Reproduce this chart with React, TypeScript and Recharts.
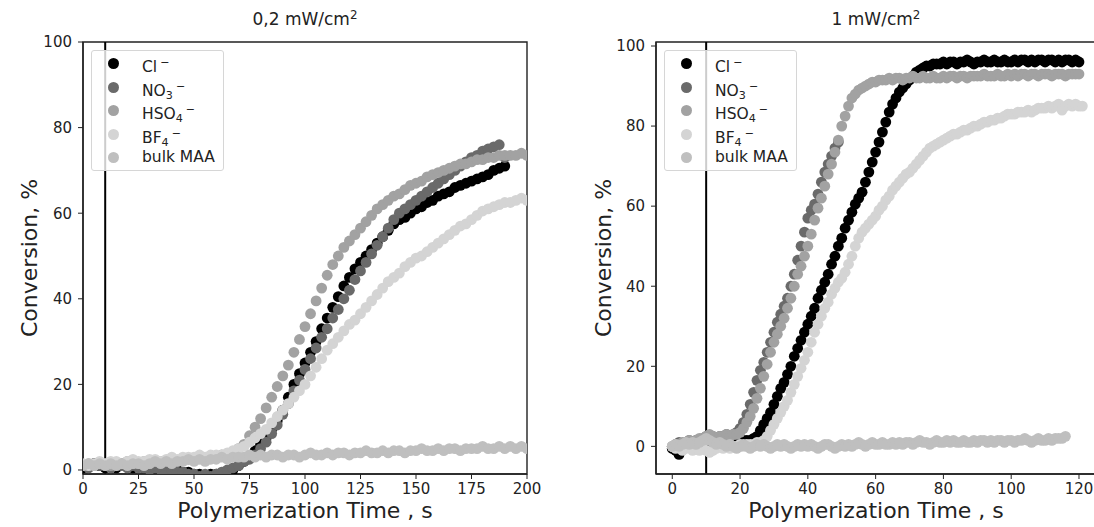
import React from 'react';
import {
  ScatterChart, Scatter, XAxis, YAxis, ReferenceLine, ReferenceArea,
} from 'recharts';

// sample times (s)
const leftTime = [
  0, 2.5, 5, 7.5, 10, 12.5, 15, 17.5, 20, 22.5,
  25, 27.5, 30, 32.5, 35, 37.5, 40, 42.5, 45, 47.5,
  50, 52.5, 55, 57.5, 60, 62.5, 65, 67.5, 70, 72.5,
  75, 77.5, 80, 82.5, 85, 87.5, 90, 92.5, 95, 97.5,
  100, 102.5, 105, 107.5, 110, 112.5, 115, 117.5, 120, 122.5,
  125, 127.5, 130, 132.5, 135, 137.5, 140, 142.5, 145, 147.5,
  150, 152.5, 155, 157.5, 160, 162.5, 165, 167.5, 170, 172.5,
  175, 177.5, 180, 182.5, 185, 187.5, 190, 192.5, 195, 197.5,
  200,
];

const rightTime = [
  0, 1, 2, 3, 4, 5, 6, 7, 8, 9,
  10, 11, 12, 13, 14, 15, 16, 17, 18, 19,
  20, 21, 22, 23, 24, 25, 26, 27, 28, 29,
  30, 31, 32, 33, 34, 35, 36, 37, 38, 39,
  40, 41, 42, 43, 44, 45, 46, 47, 48, 49,
  50, 51, 52, 53, 54, 55, 56, 57, 58, 59,
  60, 61, 62, 63, 64, 65, 66, 67, 68, 69,
  70, 71, 72, 73, 74, 75, 76, 77, 78, 79,
  80, 81, 82, 83, 84, 85, 86, 87, 88, 89,
  90, 91, 92, 93, 94, 95, 96, 97, 98, 99,
  100, 101, 102, 103, 104, 105, 106, 107, 108, 109,
  110, 111, 112, 113, 114, 115, 116, 117, 118, 119,
  120, 121,
];

// 0,2 mW/cm2 conversion, %
const leftCl = [
  0.5, 1, 1.5, 1, 0.5, 1, 0.5, 1.5, 1, 0.5,
  1, 0.5, 0, 0.5, 0, 0, -0.5, 0, -0.5, -0.5,
  -1, -1, -1.5, -1, -1, -1, -0.5, 0, 1, 2,
  3, 4.5, 6, 7.5, 9.5, 11.5, 14, 17, 20, 22.5,
  25, 27.5, 30, 33, 35.5, 38, 40.5, 43, 45, 47,
  48.5, 50, 51.5, 53, 54.5, 56, 57.5, 58.5, 59, 60,
  61, 61.5, 62.5, 63, 64, 64.5, 65, 66, 66.5, 67,
  67.5, 68, 68.5, 69, 70, 70.5, 71,
];
const leftNO3 = [
  1, 0.5, 1.5, 1, 1, 0.5, 1, 1, 0.5, 1,
  0.5, 0.5, 0, 0.5, 0, -0.5, 0, -0.5, -0.5, -1,
  -1, -1.5, -1, -1.5, -1, -0.5, 0, 0.5, 1, 2,
  2.5, 3.5, 5, 6.5, 8.5, 10.5, 13, 15.5, 18.5, 21,
  23.5, 26, 28.5, 31, 33, 35.5, 37.5, 40, 42, 44.5,
  46.5, 48.5, 50.5, 52.5, 54.5, 56.5, 58.5, 60, 61, 62,
  63, 64, 65, 66, 67, 68, 69, 70, 71, 72,
  73, 73.5, 74.5, 75, 75.5, 76, 73,
];
const leftHSO4 = [
  1, 1.5, 1, 1.5, 1.5, 1, 1.5, 1.5, 2, 1.5,
  1.5, 2, 1.5, 2, 2, 2, 2.5, 2, 2.5, 2.5,
  2.5, 3, 2.5, 3, 3, 3.5, 3.5, 4, 5, 6,
  8, 10, 12, 14.5, 17, 19.5, 22, 24.5, 27.5, 30.5,
  33.5, 36.5, 39.5, 42.5, 45.5, 48, 50, 52, 53.5, 55,
  56.5, 58, 59.5, 61, 62, 63, 64, 64.5, 65.5, 66.5,
  67, 67.5, 68.5, 69, 69.5, 70, 70.5, 71, 71.5, 71.5,
  72, 72.5, 72.5, 73, 73, 73.5, 73.5, 73.5, 73.5, 74,
  73.5,
];
const leftBF4 = [
  1.5, 1, 1.5, 2, 1.5, 2, 2, 1.5, 2, 2.5,
  2, 2, 2.5, 2.5, 2, 2.5, 3, 2.5, 3, 3,
  3, 3.5, 3, 3.5, 3.5, 3.5, 4, 4.5, 5, 5.5,
  6.5, 7.5, 8.5, 9.5, 11, 12.5, 14, 15.5, 17, 18.5,
  20, 22, 24, 26, 28, 29.5, 31, 32.5, 34, 35,
  36.5, 38, 39.5, 41, 42.5, 44, 45, 46, 47.5, 48.5,
  49.5, 50, 51, 52, 53, 54, 55, 56, 57, 57.5,
  58.5, 59.5, 60.5, 61, 61.5, 62, 62.5, 62.5, 63, 63.5,
  63,
];
const leftBulk = [
  1, 1.5, 1, 1.5, 1, 1.5, 1, 1.5, 1, 1.5,
  1.5, 1, 1.5, 2, 1.5, 2, 1.5, 2, 2, 2.5,
  2, 2.5, 2, 2.5, 2.5, 3, 2.5, 3, 3, 3,
  3.5, 3, 3.5, 3, 3.5, 3.5, 3, 3.5, 3.5, 3,
  3.5, 4, 3.5, 3.5, 4, 3.5, 4, 4, 3.5, 4,
  4, 4.5, 4, 4, 4.5, 4, 4.5, 4.5, 4, 4.5,
  4.5, 5, 4.5, 4.5, 5, 4.5, 5, 5, 4.5, 5,
  5, 5, 5.5, 5, 5, 5.5, 5, 5.5, 5, 5.5,
  5,
];

// 1 mW/cm2 conversion, %
const rightCl = [
  -0.5, -1, -2, -0.5, 0, 0.5, 0, 0.5, 1, 0.5,
  1, 0.5, 1, 0.5, 1, 1, 1.5, 1, 1, 1.5,
  1.5, 1.5, 1.5, 1.5, 2, 2.5, 4, 5.5, 7, 8.5,
  10.5, 12.5, 14.5, 16, 18, 20, 22.5, 24.5, 26.5, 28.5,
  30.5, 32.5, 34.5, 37, 39, 41, 43, 45.5, 47.5, 50,
  52, 54.5, 56.5, 58.5, 60.5, 62, 63.5, 66, 68.5, 71,
  73.5, 76, 78.5, 81, 83.5, 85.5, 87, 88.5, 89.5, 90.5,
  91.5, 92.5, 93.5, 94, 94.5, 95, 95, 95.5, 95.5, 95.5,
  96, 95.5, 96, 96, 95.5, 96, 96, 96.5, 96, 95.5,
  96, 96, 96.5, 96, 96, 96.5, 96, 96, 96.5, 96,
  96, 96.5, 96, 96.5, 96.5, 96, 96.5, 96, 96.5, 96.5,
  96, 96.5, 96.5, 96, 96.5, 96, 96.5, 96.5, 96, 96.5,
  96,
];
const rightNO3 = [
  0, 0.5, 1, 0.5, 1, 1.5, 1, 1.5, 1.5, 2,
  2.5, 2, 2.5, 2, 2.5, 2.5, 3, 2.5, 3, 3.5,
  4.5, 6, 8, 10.5, 13.5, 16.5, 19, 21, 23.5, 26,
  28.5, 31, 33, 35, 37, 40, 43, 46.5, 50, 53.5,
  57, 59, 60.5, 63, 66, 68.5, 70.5, 72.5, 74.5, 76,
];
const rightHSO4 = [
  0, 0.5, 0.5, 1, 1, 1.5, 1, 1.5, 2, 2,
  2.5, 3, 2.5, 2, 2.5, 2.5, 3, 2.5, 3, 3,
  3.5, 4.5, 6, 7.5, 9.5, 12, 14.5, 17.5, 20.5, 23.5,
  26, 28, 30, 32, 34.5, 37, 40, 43, 45, 47.5,
  50, 53, 56.5, 59.5, 62, 65, 68, 70.5, 73.5, 76.5,
  80, 82.5, 85, 87, 88, 89, 89.5, 90, 90.5, 91,
  91, 91.5, 91.5, 91.5, 92, 91.5, 92, 92, 91.5, 92,
  92, 92.5, 92, 92, 92.5, 92, 92, 92.5, 92, 92,
  92.5, 92, 92.5, 92.5, 92, 92.5, 92.5, 92, 92.5, 92.5,
  92.5, 92.5, 93, 92.5, 92.5, 92.5, 93, 92.5, 92.5, 93,
  92.5, 93, 92.5, 93, 93, 92.5, 93, 93, 92.5, 93,
  93, 93, 92.5, 93, 93, 93, 92.5, 93, 93, 93,
  93,
];
const rightBF4 = [
  0, -0.5, 0, -1, -0.5, 0, -1, -0.5, -1, -0.5,
  -1, -1.5, -1, -0.5, 0, -0.5, 0, -0.5, 0, 0,
  0.5, 0, 0.5, 0.5, 0.5, 1, 1, 1.5, 2.5, 4,
  5.5, 7, 8.5, 10, 11.5, 13.5, 15.5, 17.5, 19.5, 21.5,
  23.5, 26, 28.5, 30.5, 32.5, 34.5, 36, 38, 39.5, 41,
  42, 43.5, 45.5, 47.5, 50, 52, 53.5, 54.5, 55.5, 56.5,
  57.5, 59, 60, 61.5, 62.5, 64, 65, 66, 67, 68,
  68.5, 69.5, 70.5, 71.5, 72.5, 73.5, 74.5, 75, 75.5, 76,
  76.5, 77, 77.5, 78, 78, 78.5, 79, 79, 79.5, 80,
  80, 80.5, 81, 81, 81.5, 81.5, 82, 82, 82.5, 83,
  83, 83, 83.5, 83.5, 83.5, 84, 83.5, 84, 84.5, 84.5,
  84.5, 85, 84.5, 85, 85.5, 84, 85, 85.5, 85, 85.5,
  85, 85,
];
const rightBulk = [
  0, 0.5, 0, 0.5, 1, 0.5, 1, 0.5, 1, 1.5,
  2, 1.5, 1, 0.5, 1, 0.5, 0, 0.5, 0, -0.5,
  0, 0.5, 0, -0.5, 0, 0.5, 0, 0.5, 0, -0.5,
  0, 0.5, 0, 0.5, 0, -0.5, 0, 0.5, 0, 0.5,
  0, 0.5, 0, -0.5, 0, 0.5, 0.5, 0, -0.5, 0,
  0.5, 0, 0.5, 0, 0.5, 1, 0.5, 0, 0.5, 1,
  0.5, 0.5, 1, 0.5, 0.5, 1, 0.5, 1, 0.5, 1,
  1, 0.5, 1, 1.5, 1, 1, 0.5, 1, 1.5, 1,
  1, 1.5, 1, 1.5, 1, 1, 1.5, 1, 1, 1.5,
  1, 1.5, 1.5, 1, 1.5, 1, 1.5, 1.5, 1, 1.5,
  1.5, 1, 1.5, 1.5, 2, 1.5, 1, 1.5, 2, 1.5,
  1.5, 2, 1.5, 2, 2, 2, 2.5,
];

const leftXTicks = [0, 25, 50, 75, 100, 125, 150, 175, 200];
const rightXTicks = [0, 20, 40, 60, 80, 100, 120];
const yTicks = [0, 20, 40, 60, 80, 100];

const seriesNames = ['Cl', 'NO3', 'HSO4', 'BF4', 'bulk MAA'];
const seriesColors = ['#000000', '#6a6a6a', '#a2a2a2', '#d4d4d4', '#bfbfbf'];

const pts = (ts: number[], vs: number[]) => vs.map((v, i) => ({ t: ts[i], v }));

const leftSeries = [
  pts(leftTime, leftCl), pts(leftTime, leftNO3), pts(leftTime, leftHSO4),
  pts(leftTime, leftBF4), pts(leftTime, leftBulk),
];
const rightSeries = [
  pts(rightTime, rightCl), pts(rightTime, rightNO3), pts(rightTime, rightHSO4),
  pts(rightTime, rightBF4), pts(rightTime, rightBulk),
];

const FONT = '"DejaVu Sans", sans-serif';
const INK = '#222';

const dot = (color: string) => (props: any) => (
  <circle cx={props.cx} cy={props.cy} r={5.4} fill={color} />
);

const ion = (base: string, sub?: string) => (
  <span>
    {base}
    {sub && <span style={{ fontSize: '0.72em', verticalAlign: '-0.3em' }}>{sub}</span>}
    <span style={{ fontSize: '0.72em', verticalAlign: '0.55em', marginLeft: 3 }}>−</span>
  </span>
);

const legendLabels = [ion('Cl'), ion('NO', '3'), ion('HSO', '4'), ion('BF', '4'), <span>bulk MAA</span>];

function LegendBox({ left, top }: { left: number; top: number }) {
  return (
    <div style={{
      position: 'absolute', left, top, width: 131, height: 119,
      background: 'rgba(255,255,255,0.8)', border: '1px solid #d6d6d6', borderRadius: 3,
      fontFamily: FONT, fontSize: 15.5, color: INK,
    }}>
      {seriesNames.map((n, i) => (
        <div key={n} style={{ position: 'absolute', left: 0, top: 1 + i * 23.5, height: 23, width: '100%' }}>
          <div style={{
            position: 'absolute', left: 16, top: 6, width: 11, height: 11,
            borderRadius: '50%', background: seriesColors[i],
          }} />
          <div style={{ position: 'absolute', left: 50, top: 1, lineHeight: '20px', whiteSpace: 'nowrap' }}>
            {legendLabels[i]}
          </div>
        </div>
      ))}
    </div>
  );
}

function Panel(props: {
  left: number; width: number; margin: any; xDomain: number[]; yDomain: number[];
  xTicks: number[]; series: { t: number; v: number }[][];
}) {
  const { left, width, margin, xDomain, yDomain, xTicks, series } = props;
  const tick = { fontSize: 15, fill: INK, fontFamily: FONT };
  return (
    <div style={{ position: 'absolute', left, top: 0 }}>
      <ScatterChart width={width} height={527} margin={margin}>
        <XAxis
          type="number" dataKey="t" domain={xDomain} ticks={xTicks} allowDataOverflow
          height={53} tick={tick} tickSize={5} tickMargin={4}
          axisLine={{ stroke: INK, strokeWidth: 1.4 }} tickLine={{ stroke: INK }}
        />
        <YAxis
          type="number" dataKey="v" domain={yDomain} ticks={yTicks} allowDataOverflow
          width={50} tick={tick} tickSize={5} tickMargin={6}
          axisLine={{ stroke: INK, strokeWidth: 1.4 }} tickLine={{ stroke: INK }}
        />
        <ReferenceArea
          x1={xDomain[0]} x2={xDomain[1]} y1={yDomain[0]} y2={yDomain[1]}
          fill="none" stroke={INK} strokeWidth={1.4} ifOverflow="visible"
        />
        {series.map((d, i) => (
          <Scatter key={seriesNames[i]} name={seriesNames[i]} data={d}
            fill={seriesColors[i]} shape={dot(seriesColors[i])} isAnimationActive={false} />
        ))}
        <ReferenceLine x={10} stroke="#000" strokeWidth={2} />
      </ScatterChart>
    </div>
  );
}

const textBox = (cx: number, cy: number, size: number, rotate = false): React.CSSProperties => ({
  position: 'absolute', left: cx, top: cy, whiteSpace: 'nowrap',
  transform: `translate(-50%, -50%)${rotate ? ' rotate(-90deg)' : ''}`,
  fontFamily: FONT, fontSize: size, color: INK, lineHeight: 1,
});

export default function App() {
  return (
    <div style={{
      position: 'absolute', left: 0, top: 0, width: 1094, height: 527,
      overflow: 'hidden', background: '#fff',
    }}>
      <Panel left={0} width={550} margin={{ top: 42, right: 23, bottom: 0, left: 33 }}
        xDomain={[0, 200]} yDomain={[-0.94, 100]} xTicks={leftXTicks} series={leftSeries} />
      <Panel left={560} width={560} margin={{ top: 42, right: 20, bottom: 0, left: 46 }}
        xDomain={[-4.8, 126.2]} yDomain={[-6.9, 101]} xTicks={rightXTicks} series={rightSeries} />

      <LegendBox left={91} top={50} />
      <LegendBox left={664} top={50} />

      <div style={textBox(305, 19, 17)}>0,2 mW/cm<sup style={{ fontSize: '0.7em' }}>2</sup></div>
      <div style={textBox(876, 19, 17)}>1 mW/cm<sup style={{ fontSize: '0.7em' }}>2</sup></div>

      <div style={textBox(305, 511, 22)}>Polymerization Time , s</div>
      <div style={textBox(876, 511, 22)}>Polymerization Time , s</div>

      <div style={textBox(30, 258, 22, true)}>Conversion, %</div>
      <div style={textBox(604, 258, 22, true)}>Conversion, %</div>
    </div>
  );
}
